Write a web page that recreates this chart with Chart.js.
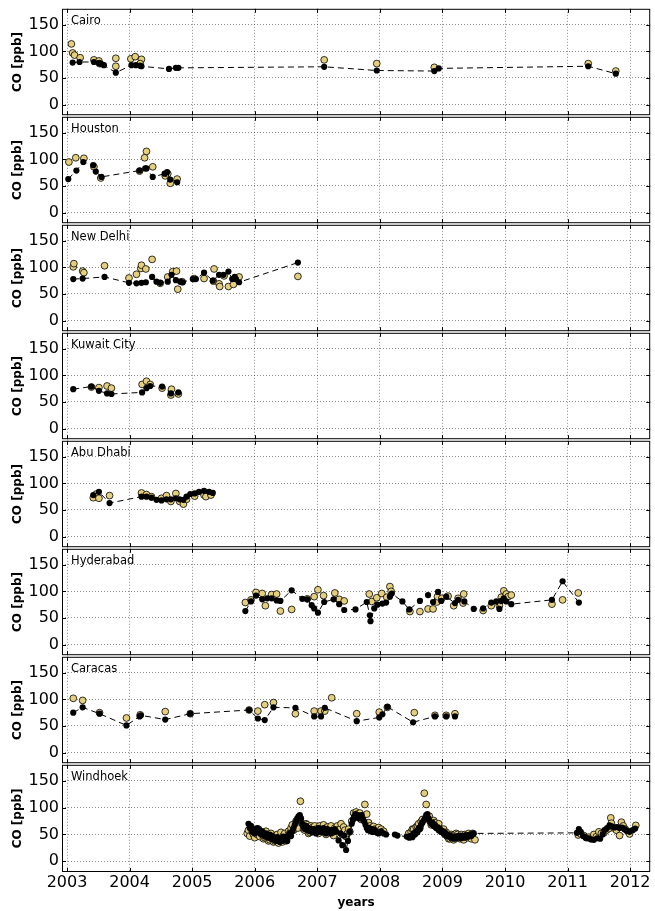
<!DOCTYPE html>
<html>
<head>
<meta charset="utf-8">
<script src="https://cdn.jsdelivr.net/npm/chart.js@4/dist/chart.umd.min.js"></script>
<style>
  body { margin: 0; background: #fff; }
  #wrap { position: relative; width: 655px; height: 911px; }
  #wrap canvas { position: absolute; left: 0; }
</style>
</head>
<body>
<div id="wrap"></div>
<script>
// station names, top to bottom
var cities = ['Cairo', 'Houston', 'New Delhi', 'Kuwait City', 'Abu Dhabi', 'Hyderabad', 'Caracas', 'Windhoek'];
var yearTicks = [2003, 2004, 2005, 2006, 2007, 2008, 2009, 2010, 2011, 2012];
var coTicks = [0, 50, 100, 150];

// [decimal year, CO ppb]  black = dots joined by dashed line, gold = open markers
var cairoBlack = [[2003.09,79],[2003.20,80],[2003.43,80],[2003.51,78],[2003.55,76],[2003.59,74],[2003.78,60],[2004.03,74],[2004.10,74],[2004.17,73],[2004.19,72],[2004.63,67],[2004.74,69],[2004.78,69],[2007.11,71],[2007.95,64],[2008.87,63],[2008.94,68],[2011.33,72],[2011.77,58]];
var cairoGold = [[2003.07,114],[2003.09,97],[2003.12,93],[2003.21,88],[2003.43,84],[2003.51,82],[2003.52,77],[2003.78,87],[2003.78,72],[2004.02,86],[2004.09,90],[2004.19,85],[2004.17,77],[2007.11,84],[2007.95,77],[2008.87,70],[2011.33,77],[2011.77,63]];

var houstonBlack = [[2003.02,63],[2003.15,79],[2003.26,95],[2003.42,89],[2003.46,77],[2003.55,67],[2004.16,79],[2004.25,83],[2004.27,83],[2004.37,67],[2004.56,73],[2004.60,76],[2004.65,62],[2004.76,57]];
var houstonGold = [[2003.03,95],[2003.14,103],[2003.27,102],[2003.43,86],[2003.54,65],[2004.16,78],[2004.24,103],[2004.27,115],[2004.37,86],[2004.57,69],[2004.61,73],[2004.65,55],[2004.76,63]];

var delhiBlack = [[2003.10,78],[2003.25,79],[2003.60,82],[2003.99,71],[2004.11,70],[2004.19,71],[2004.26,72],[2004.36,82],[2004.43,73],[2004.49,71],[2004.61,73],[2004.67,86],[2004.74,76],[2004.81,73],[2004.85,72],[2005.01,78],[2005.06,78],[2005.19,90],[2005.33,75],[2005.43,86],[2005.50,86],[2005.58,92],[2005.64,78],[2005.68,82],[2005.70,78],[2005.75,72],[2006.69,109]];
var delhiGold = [[2003.10,101],[2003.11,107],[2003.25,93],[2003.27,90],[2003.60,103],[2003.99,80],[2004.11,87],[2004.18,98],[2004.19,104],[2004.26,97],[2004.36,115],[2004.49,70],[2004.61,82],[2004.69,92],[2004.75,93],[2004.77,59],[2004.84,73],[2005.03,79],[2005.19,79],[2005.34,74],[2005.35,97],[2005.43,69],[2005.44,64],[2005.51,84],[2005.58,64],[2005.66,68],[2005.75,82],[2006.69,83]];

var kuwaitBlack = [[2003.10,74],[2003.39,79],[2003.51,71],[2003.64,66],[2003.71,65],[2004.20,68],[2004.27,76],[2004.33,80],[2004.52,79],[2004.66,66],[2004.78,68]];
var kuwaitGold = [[2003.39,78],[2003.51,77],[2003.64,80],[2003.71,76],[2004.20,83],[2004.27,89],[2004.33,83],[2004.52,76],[2004.66,63],[2004.67,74],[2004.78,65]];

var abuDhabiBlack = [[2003.42,78],[2003.51,84],[2003.68,63],[2004.19,75],[2004.27,75],[2004.35,73],[2004.43,69],[2004.51,68],[2004.59,70],[2004.66,70],[2004.74,72],[2004.80,70],[2004.86,69],[2004.91,75],[2004.97,80],[2005.04,81],[2005.11,84],[2005.19,86],[2005.27,84],[2005.33,82]];
var abuDhabiGold = [[2003.42,73],[2003.47,80],[2003.51,72],[2003.68,77],[2004.19,82],[2004.27,79],[2004.35,75],[2004.51,72],[2004.59,77],[2004.66,66],[2004.74,81],[2004.80,66],[2004.86,61],[2004.91,70],[2005.04,76],[2005.19,78],[2005.22,75],[2005.30,78]];

var hyderabadBlack = [[2005.85,63],[2005.94,81],[2006.02,92],[2006.12,85],[2006.20,87],[2006.27,87],[2006.35,83],[2006.41,82],[2006.59,102],[2006.76,86],[2006.84,85],[2006.91,74],[2006.95,68],[2007.01,60],[2007.11,80],[2007.26,85],[2007.35,76],[2007.43,65],[2007.61,66],[2007.79,80],[2007.84,55],[2007.85,44],[2007.91,68],[2007.96,75],[2008.04,77],[2008.10,79],[2008.16,90],[2008.19,96],[2008.36,81],[2008.47,66],[2008.64,82],[2008.77,93],[2008.85,80],[2008.93,99],[2008.98,82],[2009.06,90],[2009.20,78],[2009.25,84],[2009.35,81],[2009.50,67],[2009.65,68],[2009.78,79],[2009.86,81],[2009.91,67],[2009.94,82],[2009.98,87],[2010.02,81],[2010.10,76],[2010.75,84],[2010.92,119],[2011.18,79]];
var hyderabadGold = [[2005.85,79],[2005.94,84],[2006.02,98],[2006.12,96],[2006.17,73],[2006.27,94],[2006.35,95],[2006.41,63],[2006.59,66],[2006.84,86],[2006.95,90],[2007.01,103],[2007.10,92],[2007.28,97],[2007.35,85],[2007.43,82],[2007.83,95],[2007.87,81],[2007.95,88],[2008.03,96],[2008.11,89],[2008.16,109],[2008.18,100],[2008.48,62],[2008.64,62],[2008.77,67],[2008.85,67],[2008.91,80],[2008.92,90],[2008.99,87],[2009.09,91],[2009.18,73],[2009.25,87],[2009.33,78],[2009.34,95],[2009.65,64],[2009.78,73],[2009.91,73],[2009.94,89],[2009.98,101],[2010.02,95],[2010.05,90],[2010.10,93],[2010.75,76],[2010.92,84],[2011.17,97]];

var caracasBlack = [[2003.10,75],[2003.25,85],[2003.52,73],[2003.95,51],[2004.16,68],[2004.18,70],[2004.57,62],[2004.97,73],[2005.91,80],[2006.05,64],[2006.16,61],[2006.30,85],[2006.65,84],[2006.95,68],[2007.06,68],[2007.12,84],[2007.63,59],[2007.99,66],[2008.04,72],[2008.12,86],[2008.53,57],[2008.88,68],[2009.06,68],[2009.20,68]];
var caracasGold = [[2003.10,102],[2003.25,98],[2003.52,75],[2003.95,65],[2004.17,71],[2004.57,77],[2004.97,73],[2005.91,80],[2006.05,78],[2006.16,90],[2006.30,94],[2006.65,73],[2006.95,78],[2007.06,78],[2007.12,78],[2007.23,103],[2007.63,73],[2007.99,76],[2008.12,85],[2008.55,75],[2008.88,70],[2009.06,70],[2009.20,73]];

var windhoekBlack = [[2005.90,70],[2005.92,62],[2005.94,66],[2005.96,55],[2005.98,60],[2006.00,52],[2006.02,58],[2006.04,62],[2006.06,54],[2006.08,58],[2006.10,50],[2006.12,56],[2006.14,52],[2006.16,46],[2006.18,52],[2006.20,48],[2006.22,44],[2006.24,50],[2006.26,42],[2006.28,47],[2006.30,40],[2006.32,44],[2006.34,38],[2006.36,45],[2006.38,40],[2006.40,36],[2006.42,43],[2006.44,38],[2006.46,46],[2006.48,40],[2006.50,44],[2006.52,38],[2006.54,48],[2006.56,52],[2006.58,47],[2006.60,56],[2006.62,62],[2006.64,68],[2006.66,74],[2006.68,80],[2006.70,84],[2006.72,86],[2006.74,80],[2006.76,70],[2006.78,64],[2006.80,60],[2006.82,66],[2006.84,58],[2006.86,62],[2006.88,56],[2006.90,60],[2006.92,54],[2006.94,60],[2006.96,56],[2006.98,52],[2007.00,58],[2007.02,62],[2007.04,55],[2007.06,60],[2007.08,54],[2007.10,62],[2007.12,56],[2007.14,52],[2007.16,60],[2007.18,55],[2007.20,58],[2007.22,52],[2007.24,58],[2007.26,54],[2007.28,60],[2007.30,56],[2007.34,39],[2007.37,52],[2007.40,30],[2007.43,48],[2007.46,21],[2007.49,38],[2007.52,55],[2007.55,70],[2007.57,78],[2007.59,84],[2007.61,88],[2007.63,82],[2007.65,86],[2007.67,80],[2007.69,84],[2007.71,86],[2007.73,78],[2007.75,74],[2007.77,68],[2007.79,62],[2007.81,58],[2007.83,62],[2007.85,56],[2007.87,60],[2007.89,55],[2007.91,59],[2007.93,57],[2007.95,54],[2007.98,52],[2008.02,56],[2008.06,52],[2008.10,50],[2008.24,50],[2008.28,48],[2008.43,46],[2008.47,44],[2008.50,48],[2008.52,45],[2008.54,52],[2008.56,50],[2008.58,56],[2008.60,54],[2008.62,62],[2008.64,60],[2008.66,68],[2008.68,72],[2008.70,76],[2008.72,80],[2008.74,86],[2008.76,88],[2008.78,80],[2008.80,74],[2008.82,70],[2008.84,72],[2008.86,66],[2008.88,68],[2008.90,62],[2008.92,64],[2008.94,58],[2008.96,60],[2008.98,55],[2009.00,57],[2009.02,52],[2009.04,54],[2009.06,48],[2009.08,50],[2009.10,46],[2009.12,48],[2009.14,43],[2009.16,46],[2009.18,42],[2009.20,46],[2009.22,43],[2009.24,47],[2009.26,44],[2009.28,48],[2009.30,43],[2009.32,47],[2009.34,44],[2009.36,48],[2009.38,45],[2009.40,49],[2009.42,46],[2009.44,50],[2009.46,47],[2009.48,51],[2009.50,52],[2011.15,53],[2011.18,60],[2011.21,55],[2011.25,47],[2011.29,44],[2011.33,43],[2011.37,41],[2011.42,40],[2011.47,43],[2011.52,42],[2011.56,50],[2011.59,58],[2011.63,62],[2011.67,67],[2011.71,65],[2011.75,63],[2011.79,64],[2011.83,62],[2011.87,63],[2011.91,60],[2011.95,57],[2011.99,55],[2012.04,58],[2012.08,61]];
var windhoekGold = [[2005.88,52],[2005.90,58],[2005.92,47],[2005.94,62],[2005.96,55],[2005.98,50],[2006.00,44],[2006.02,56],[2006.04,50],[2006.06,60],[2006.08,46],[2006.10,54],[2006.12,53],[2006.14,42],[2006.16,44],[2006.18,56],[2006.20,49],[2006.22,38],[2006.24,40],[2006.26,52],[2006.28,46],[2006.30,36],[2006.32,38],[2006.34,48],[2006.36,50],[2006.38,34],[2006.40,42],[2006.42,54],[2006.44,36],[2006.46,48],[2006.48,52],[2006.50,38],[2006.52,45],[2006.54,56],[2006.56,53],[2006.58,62],[2006.60,68],[2006.62,58],[2006.63,60],[2006.66,75],[2006.69,62],[2006.73,112],[2006.76,70],[2006.78,60],[2006.80,58],[2006.82,70],[2006.84,68],[2006.86,52],[2006.88,54],[2006.90,66],[2006.92,63],[2006.94,56],[2006.96,66],[2006.98,60],[2007.00,58],[2007.02,52],[2007.04,66],[2007.06,60],[2007.08,62],[2007.10,68],[2007.12,56],[2007.14,50],[2007.16,64],[2007.18,60],[2007.20,58],[2007.22,66],[2007.24,52],[2007.26,48],[2007.28,62],[2007.30,56],[2007.32,66],[2007.34,58],[2007.36,60],[2007.38,70],[2007.40,50],[2007.42,64],[2007.44,58],[2007.46,46],[2007.48,52],[2007.50,60],[2007.52,55],[2007.55,75],[2007.58,90],[2007.60,82],[2007.62,92],[2007.64,88],[2007.66,84],[2007.68,90],[2007.70,78],[2007.73,84],[2007.76,106],[2007.79,88],[2007.82,72],[2007.84,66],[2007.86,62],[2007.88,56],[2007.90,65],[2007.92,60],[2007.94,58],[2007.96,54],[2007.98,63],[2008.02,60],[2008.06,56],[2008.46,52],[2008.50,55],[2008.52,60],[2008.54,60],[2008.56,52],[2008.58,64],[2008.60,66],[2008.62,70],[2008.64,62],[2008.66,74],[2008.68,78],[2008.71,127],[2008.74,106],[2008.77,80],[2008.79,84],[2008.80,75],[2008.82,68],[2008.84,70],[2008.86,76],[2008.88,72],[2008.90,64],[2008.92,66],[2008.94,70],[2008.96,60],[2008.98,56],[2009.00,55],[2009.02,60],[2009.04,50],[2009.06,54],[2009.08,46],[2009.10,42],[2009.12,42],[2009.14,50],[2009.16,48],[2009.18,40],[2009.20,44],[2009.22,52],[2009.24,50],[2009.26,44],[2009.28,42],[2009.30,50],[2009.32,46],[2009.34,40],[2009.36,50],[2009.38,48],[2009.40,44],[2009.42,52],[2009.44,48],[2009.46,42],[2009.48,52],[2009.52,40],[2011.17,49],[2011.21,51],[2011.26,48],[2011.30,44],[2011.34,45],[2011.38,42],[2011.42,50],[2011.46,46],[2011.50,55],[2011.54,52],[2011.58,53],[2011.62,58],[2011.66,61],[2011.69,81],[2011.70,71],[2011.74,62],[2011.78,58],[2011.83,48],[2011.86,73],[2011.89,66],[2011.92,60],[2011.96,56],[2011.99,51],[2012.09,67]];

var blackSets = [cairoBlack, houstonBlack, delhiBlack, kuwaitBlack, abuDhabiBlack, hyderabadBlack, caracasBlack, windhoekBlack];
var goldSets = [cairoGold, houstonGold, delhiGold, kuwaitGold, abuDhabiGold, hyderabadGold, caracasGold, windhoekGold];

Chart.defaults.font.family = '"DejaVu Sans", sans-serif';
Chart.defaults.color = '#000';

// box round each panel, inward ticks, station name
var framePlugin = {
  id: 'frame',
  afterDraw: function(chart, args, opts) {
    var ctx = chart.ctx, a = chart.chartArea;
    var x = chart.scales.x, y = chart.scales.y;
    ctx.save();
    ctx.strokeStyle = '#000';
    ctx.lineWidth = 1;
    ctx.strokeRect(a.left + 0.5, a.top + 0.5, a.right - a.left - 1, a.bottom - a.top - 1);
    ctx.beginPath();
    x.ticks.forEach(function(t) {
      var px = Math.round(x.getPixelForValue(t.value)) + 0.5;
      ctx.moveTo(px, a.top); ctx.lineTo(px, a.top + 4);
      ctx.moveTo(px, a.bottom); ctx.lineTo(px, a.bottom - 4);
    });
    y.ticks.forEach(function(t) {
      var py = Math.round(y.getPixelForValue(t.value)) + 0.5;
      ctx.moveTo(a.left, py); ctx.lineTo(a.left + 4, py);
      ctx.moveTo(a.right, py); ctx.lineTo(a.right - 4, py);
    });
    ctx.stroke();
    ctx.font = '11.5px "DejaVu Sans"';
    ctx.fillStyle = '#000';
    ctx.textBaseline = 'middle';
    ctx.fillText(opts.label, a.left + 9, a.top + 12.5);
    ctx.restore();
  }
};

function toPoints(arr) {
  return arr.map(function(p) { return {x: p[0], y: p[1]}; });
}

function makePanel(i) {
  var last = i === cities.length - 1;
  var top = 8 + 108 * i;
  var canvas = document.createElement('canvas');
  var h = last ? 911 - (top - 4) : 116;
  canvas.width = 655;
  canvas.height = h;
  canvas.style.top = (top - 4) + 'px';
  document.getElementById('wrap').appendChild(canvas);

  var grid = {color: 'rgba(0,0,0,0.45)', lineWidth: 1, drawTicks: false};
  var border = {display: false, dash: [1, 2]};

  new Chart(canvas, {
    type: 'scatter',
    data: {
      // first dataset is painted last, so the black dots sit on top
      datasets: [{
        data: toPoints(blackSets[i]),
        showLine: true,
        borderColor: '#000',
        borderWidth: 1,
        borderDash: [6, 4],
        pointRadius: 3.1,
        pointBorderWidth: 0,
        pointBackgroundColor: '#000'
      }, {
        data: toPoints(goldSets[i]),
        showLine: false,
        pointRadius: 3.4,
        pointBorderWidth: 0.8,
        pointBorderColor: '#000',
        pointBackgroundColor: '#e5cf7e'
      }]
    },
    options: {
      responsive: false,
      animation: false,
      layout: {padding: {top: 4, bottom: last ? 0 : 4, left: 0, right: 2}},
      plugins: {legend: {display: false}, tooltip: {enabled: false}, frame: {label: cities[i]}},
      scales: {
        x: {
          type: 'linear',
          min: 2002.92,
          max: 2012.32,
          grid: grid,
          border: border,
          afterBuildTicks: function(s) { s.ticks = yearTicks.map(function(v) { return {value: v}; }); },
          ticks: {display: last, font: {size: 16}, padding: 1, maxRotation: 0, callback: function(v) { return String(v); }},
          title: {display: last, text: 'years', font: {size: 12, weight: 'bold'}, padding: {top: 0, bottom: 1}},
          afterFit: function(s) { s.height = last ? 39 : 0; s.paddingLeft = 0; s.paddingRight = 0; }
        },
        y: {
          min: -20,
          max: 180,
          grid: grid,
          border: border,
          afterBuildTicks: function(s) { s.ticks = coTicks.map(function(v) { return {value: v}; }); },
          ticks: {font: {size: 16}, padding: 3},
          title: {display: true, text: 'CO [ppb]', font: {size: 12, weight: 'bold'}, padding: {top: 11, bottom: 0}},
          afterFit: function(s) { s.width = 62; s.paddingTop = 0; s.paddingBottom = 0; }
        }
      }
    },
    plugins: [framePlugin]
  });
}

for (var i = 0; i < cities.length; i++) {
  makePanel(i);
}
</script>
</body>
</html>
